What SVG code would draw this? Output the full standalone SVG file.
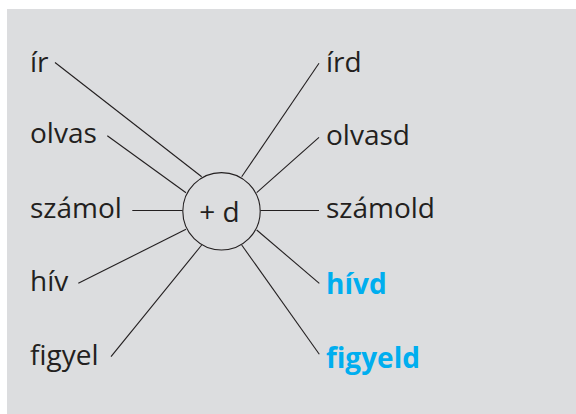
<svg xmlns="http://www.w3.org/2000/svg" width="576" height="414" viewBox="0 0 576 414">
<style>
.t{font-family:"Open Sans","Noto Sans","Liberation Sans",sans-serif;font-size:28px;fill:#231f20}
.b{font-weight:bold;fill:#00aeef}
.c{stroke:#231f20;stroke-width:1.1;fill:none}
</style>
<rect x="7" y="9" width="569" height="405" fill="#dcdddf"/>
<g id="connectors" class="c">
<line x1="55" y1="62.5" x2="201.7" y2="176.7"/>
<line x1="107.3" y1="135.7" x2="186" y2="192.7"/>
<line x1="132.3" y1="210.5" x2="182.7" y2="210.5"/>
<line x1="78.3" y1="283.3" x2="186" y2="229.3"/>
<line x1="111" y1="356.7" x2="201.7" y2="245"/>
<line x1="319" y1="63.3" x2="241.7" y2="176.7"/>
<line x1="319" y1="137.3" x2="256.7" y2="192.7"/>
<line x1="260.3" y1="210.5" x2="319" y2="210.5"/>
<line x1="256.7" y1="230" x2="319.3" y2="283.3"/>
<line x1="241.7" y1="245" x2="319.3" y2="354.3"/>
</g>
<g id="center">
<circle cx="221.5" cy="211.3" r="38.7" fill="#dcdddf" stroke="#231f20" stroke-width="1.1"/>
<text class="t" x="219.5" y="221.7" text-anchor="middle">+ d</text>
</g>
<g id="ir"><text class="t" x="30" y="72">ír</text></g>
<g id="olvas"><text class="t" x="30" y="143.3">olvas</text></g>
<g id="szamol"><text class="t" x="30" y="218.3">számol</text></g>
<g id="hiv"><text class="t" x="30" y="291">hív</text></g>
<g id="figyel"><text class="t" x="30" y="365">figyel</text></g>
<g id="ird"><text class="t" x="326" y="71.7">írd</text></g>
<g id="olvasd"><text class="t" x="326" y="145">olvasd</text></g>
<g id="szamold"><text class="t" x="326" y="218.3">számold</text></g>
<g id="hivd"><text class="t b" x="326" y="294">hívd</text></g>
<g id="figyeld"><text class="t b" x="326" y="368.3">figyeld</text></g>
</svg>
